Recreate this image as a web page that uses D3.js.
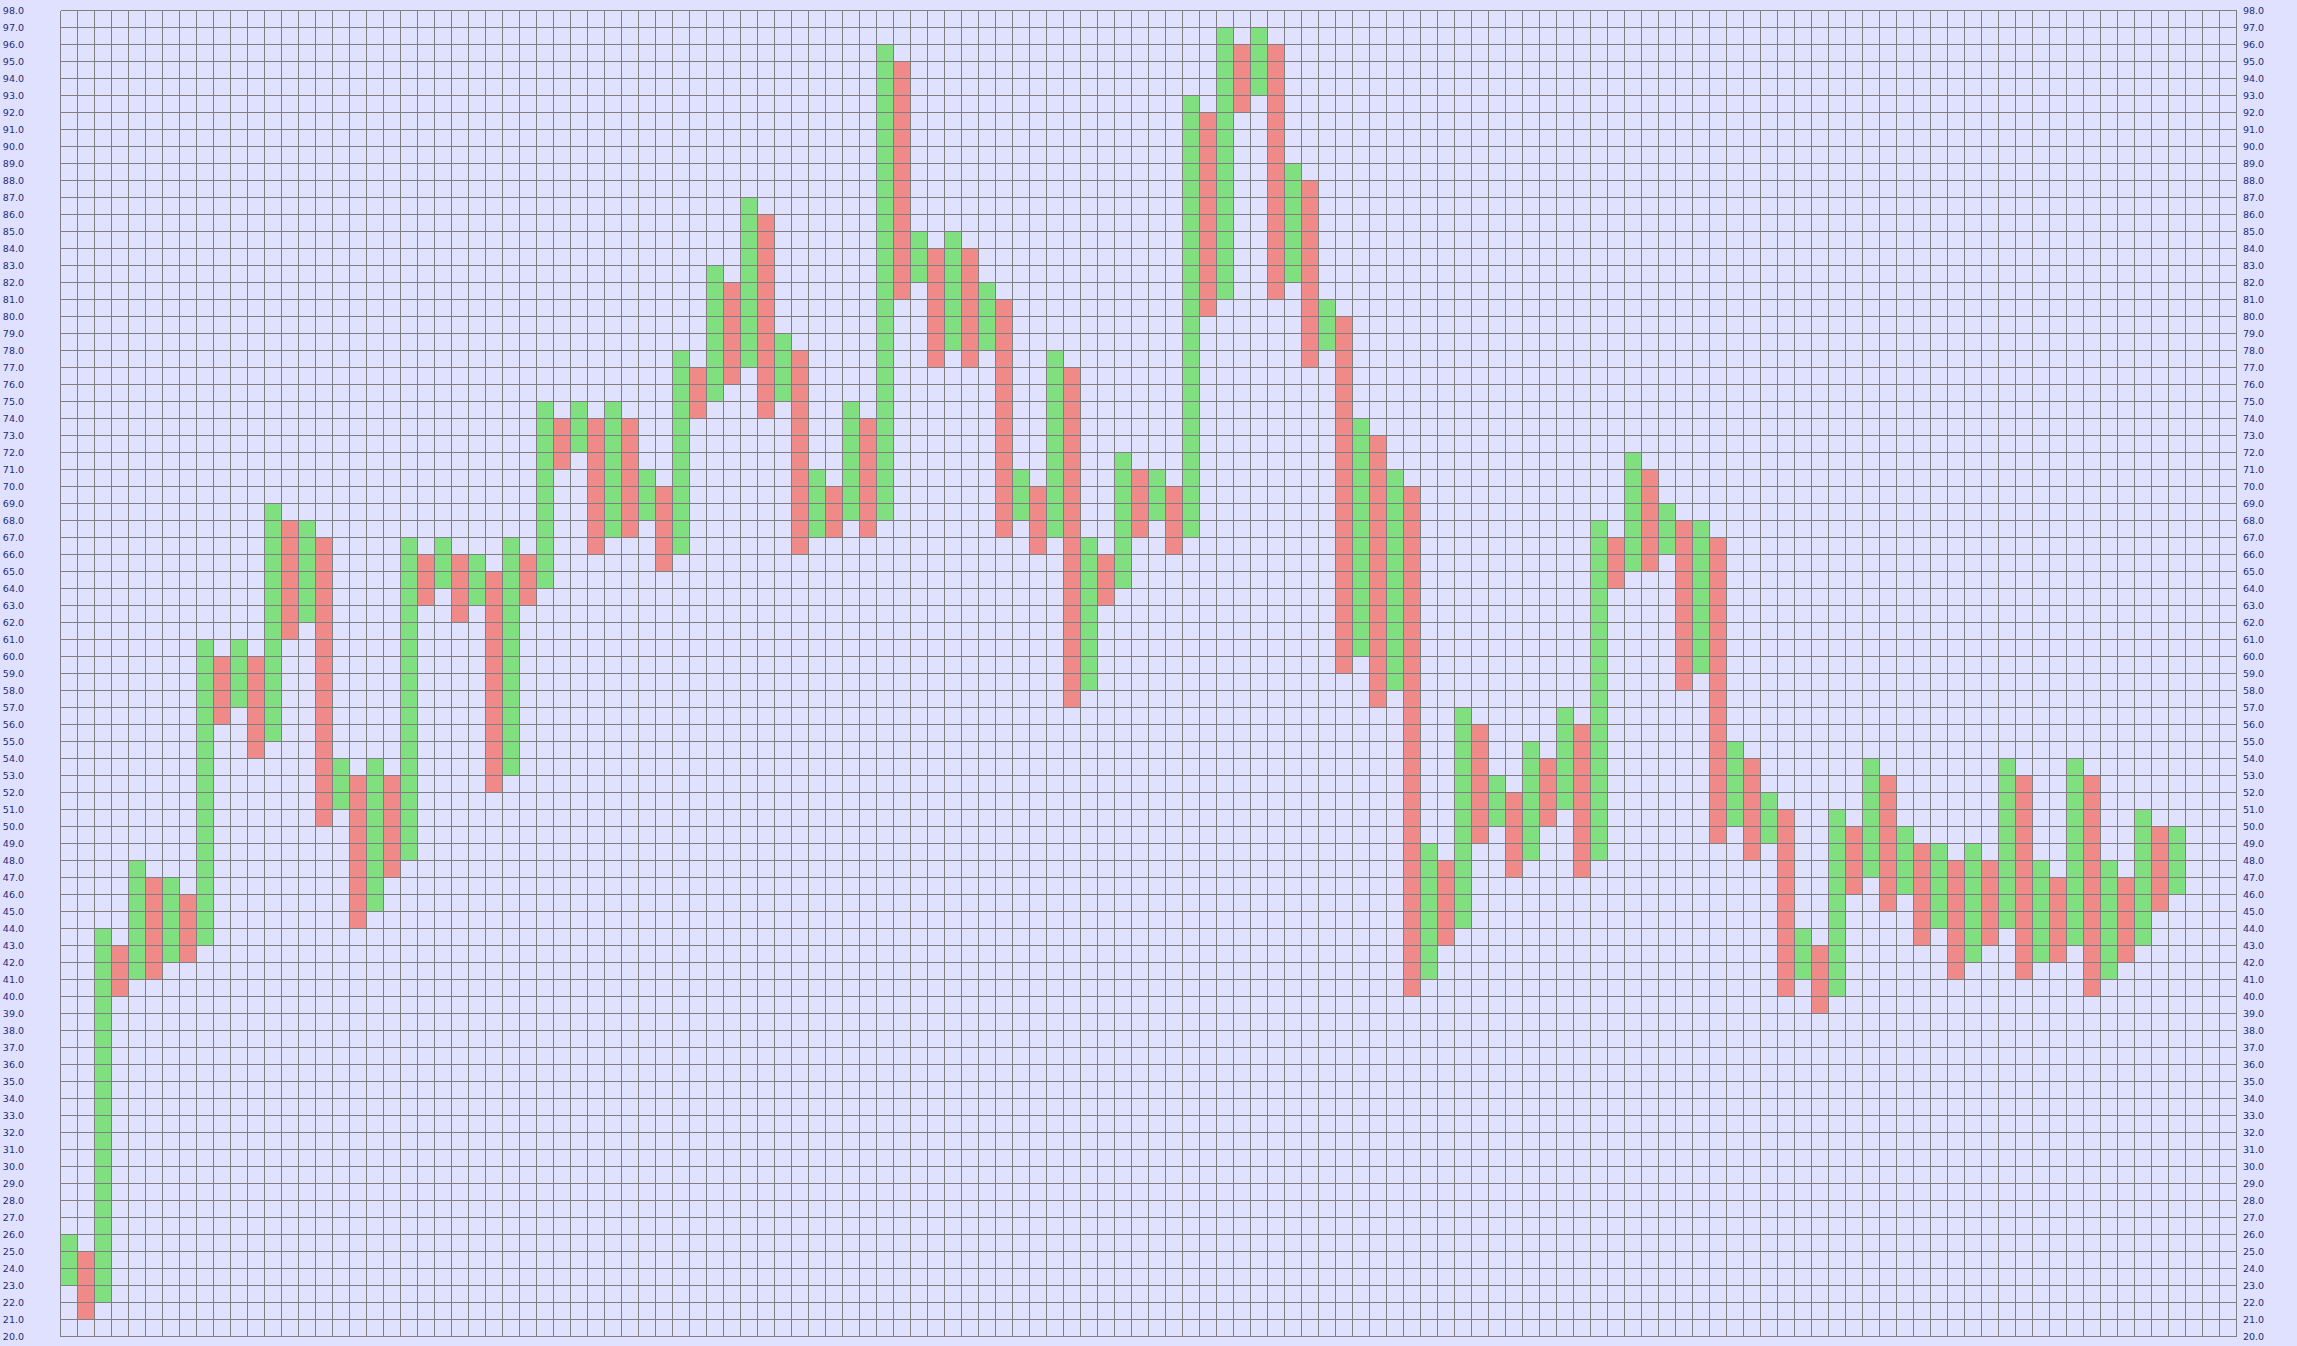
<!DOCTYPE html>
<html>
<head>
<meta charset="utf-8">
<script src="https://cdn.jsdelivr.net/npm/d3@7"></script>
<style>
  html, body { margin: 0; padding: 0; background: #e0e0ff; }
  svg { display: block; }
  .axis text { font-family: "DejaVu Sans", Verdana, sans-serif; font-size: 9.5px; fill: #1c2c7c; }
</style>
</head>
<body>
<div id="chart"></div>
<script>
// point & figure columns: X = rising (green), O = falling (red)
var colType = [
  "X","O","X","O","X","O","X","O","X","O","X","O","X","O","X","O","X","O","X","O",
  "X","O","X","O","X","O","X","O","X","O","X","O","X","O","X","O","X","O","X","O",
  "X","O","X","O","X","O","X","O","X","O","X","O","X","O","X","O","X","O","X","O",
  "X","O","X","O","X","O","X","O","X","O","X","O","X","O","X","O","X","O","X","O",
  "X","O","X","O","X","O","X","O","X","O","X","O","X","O","X","O","X","O","X","O",
  "X","O","X","O","X","O","X","O","X","O","X","O","X","O","X","O","X","O","X","O",
  "X","O","X","O","X"
];
var colLow = [
  23,21,22,40,41,41,42,42,43,56,57,54,55,61,62,50,51,44,45,47,
  48,63,64,62,63,52,53,63,64,71,72,66,67,67,68,65,66,74,75,76,
  77,74,75,66,67,67,68,67,68,81,82,77,78,77,78,67,68,66,67,57,
  58,63,64,67,68,66,67,80,81,92,93,81,82,77,78,59,60,57,58,40,
  41,43,44,49,50,47,48,50,51,47,48,64,65,65,66,58,59,49,50,48,
  49,40,41,39,40,46,47,45,46,43,44,41,42,43,44,41,42,42,43,40,
  41,42,43,45,46
];
var colHigh = [
  26,25,44,43,48,47,47,46,61,60,61,60,69,68,68,67,54,53,54,53,
  67,66,67,66,66,65,67,66,75,74,75,74,75,74,71,70,78,77,83,82,
  87,86,79,78,71,70,75,74,96,95,85,84,85,84,82,81,71,70,78,77,
  67,66,72,71,71,70,93,92,97,96,97,96,89,88,81,80,74,73,71,70,
  49,48,57,56,53,52,55,54,57,56,68,67,72,71,69,68,68,67,55,54,
  52,51,44,43,51,50,54,53,50,49,49,48,49,48,54,53,48,47,54,53,
  48,47,51,50,50
];
var yMin = 20, yMax = 98;
var nCols = 128;

var width = 2297;
var height = 1346;
var plotLeft = 60, plotRight = 2236, plotTop = 10, plotBottom = 1336;

var svg = d3.select("#chart").append("svg")
  .attr("width", width)
  .attr("height", height);

var x = d3.scaleLinear().domain([0, nCols]).range([plotLeft, plotRight]);
var y = d3.scaleLinear().domain([yMin, yMax]).range([plotBottom, plotTop]);

// columns
svg.append("g")
  .selectAll("rect")
  .data(colType)
  .enter().append("rect")
  .attr("x", function(d, i) { return x(i); })
  .attr("width", x(1) - x(0))
  .attr("y", function(d, i) { return y(colHigh[i]); })
  .attr("height", function(d, i) { return y(colLow[i]) - y(colHigh[i]); })
  .attr("fill", function(d) { return d == "X" ? "#80e080" : "#f08a88"; });

// grid on top
var grid = svg.append("g").attr("transform", "translate(0.5,0.5)")
  .attr("stroke", "#808080").attr("stroke-width", 1).attr("shape-rendering", "crispEdges");
grid.selectAll(".v")
  .data(d3.range(0, nCols + 1))
  .enter().append("line")
  .attr("class", "v")
  .attr("x1", function(d) { return x(d); }).attr("x2", function(d) { return x(d); })
  .attr("y1", plotTop).attr("y2", plotBottom);
grid.selectAll(".h")
  .data(d3.range(yMin, yMax + 1))
  .enter().append("line")
  .attr("class", "h")
  .attr("x1", plotLeft).attr("x2", plotRight)
  .attr("y1", function(d) { return y(d); }).attr("y2", function(d) { return y(d); });

// axes on both sides
var ticks = d3.range(yMin, yMax + 1);
var leftAxis = d3.axisLeft(y).tickValues(ticks).tickFormat(d3.format(".1f"))
  .tickSize(0).tickPadding(36);
var rightAxis = d3.axisRight(y).tickValues(ticks).tickFormat(d3.format(".1f"))
  .tickSize(0).tickPadding(7);

svg.append("g").attr("class", "axis")
  .attr("transform", "translate(" + plotLeft + ",0.5)")
  .call(leftAxis)
  .call(function(g) { g.select(".domain").remove(); });
svg.append("g").attr("class", "axis")
  .attr("transform", "translate(" + plotRight + ",0.5)")
  .call(rightAxis)
  .call(function(g) { g.select(".domain").remove(); });
</script>
</body>
</html>
